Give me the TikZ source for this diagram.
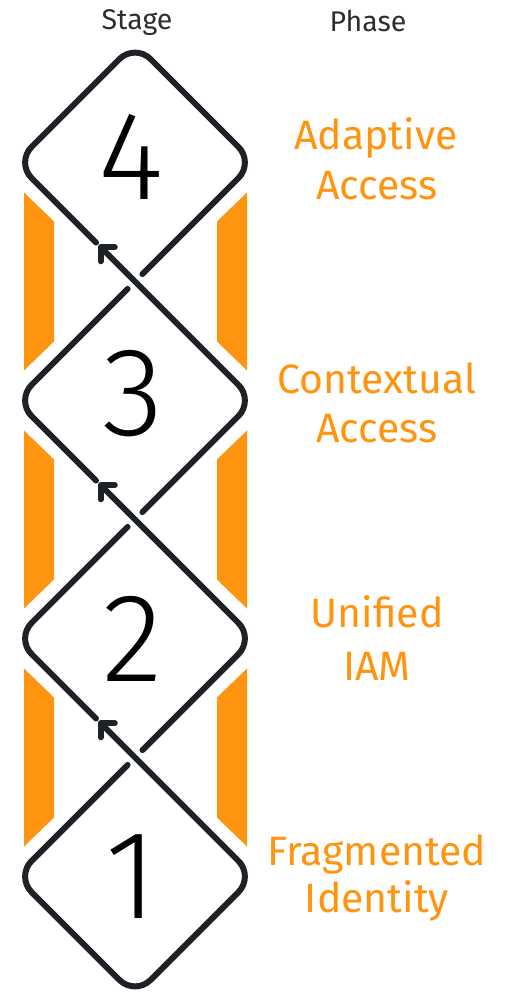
\documentclass[tikz,border=0pt]{standalone}
\usepackage{fontspec}
\setmainfont{Fira Sans}
\newfontfamily\digitfont{Fira Sans Light}
\usetikzlibrary{arrows.meta,calc}
\definecolor{ink}{HTML}{1E2226}
\definecolor{orng}{HTML}{FF9410}
\definecolor{hdr}{HTML}{2E2E2E}
\begin{document}
\begin{tikzpicture}[x=1pt,y=-1pt,
  edge/.style={draw=ink,line width=6pt,line cap=round,line join=round,rounded corners=22pt},
  flow/.style={edge,-{Straight Barb[length=10pt,width=20pt,round]}},
  bar/.style={fill=orng,draw=none},
  digit/.style={font=\digitfont\fontsize{126}{126}\selectfont,text=black,anchor=base,inner sep=0pt},
  phase/.style={font=\fontsize{41}{50}\selectfont,text=orng,anchor=base,inner sep=0pt},
  head/.style={font=\fontsize{28.5}{30}\selectfont,text=hdr,anchor=base,inner sep=0pt}]
\useasboundingbox (0,0) rectangle (504,1000);
\def\cx{135}
\def\D{119}
\foreach \k/\cy in {4/162.5,3/400.5,2/638.5,1/876.5}{
  \coordinate (L\k) at (\cx-\D,\cy);
  \coordinate (R\k) at (\cx+\D,\cy);
  \coordinate (T\k) at (\cx,\cy-\D);
  \coordinate (B\k) at (\cx,\cy+\D);
  \coordinate (P\k) at (\cx-39,\cy+\D-39);
  \coordinate (GA\k) at (\cx+7.4,\cy+\D-7.4);
  \coordinate (GB\k) at (\cx-7.4,\cy-\D+7.4);
  \coordinate (A\k) at (\cx-36.5,\cy-\D-36.5);
}
% orange bars
\foreach \yc in {281.5,519.5,757.5}{
  \fill[bar] (24,\yc-89) -- (54,\yc-60) -- (54,\yc+60) -- (24,\yc+89) -- cycle;
  \fill[bar] (247,\yc-89) -- (217,\yc-60) -- (217,\yc+60) -- (247,\yc+89) -- cycle;
}
% diamonds
\draw[edge] (P4) -- (L4) -- (T4) -- (R4) -- (GA4);
\draw[edge] (GB3) -- (L3) -- (P3);
\draw[edge] (GB2) -- (L2) -- (P2);
\draw[flow] (GA3) -- (R3) -- (A3);
\draw[flow] (GA2) -- (R2) -- (A2);
\draw[flow] (GB1) -- (L1) -- (B1) -- (R1) -- (A1);
% digits
\node[digit] (d4) at (131,200) {4};
\node[digit] (d3) at (133,435) {3};
\node[digit] (d2) at (133,681) {2};
\node[digit] (d1) at (132,918) {1};
% headers
\node[head] (stage) at (137,29.5) {Stage};
\node[head] (phase) at (368,31.5) {Phase};
% phase labels
\node[phase] (p4a) at (376,150) {Adaptive};
\node[phase] (p4b) at (377,200) {Access};
\node[phase] (p3a) at (377,393) {Contextual};
\node[phase] (p3b) at (377,442) {Access};
\node[phase] (p2a) at (377,627) {Unified};
\node[phase] (p2b) at (377,680) {IAM};
\node[phase] (p1a) at (377,865) {Fragmented};
\node[phase] (p1b) at (377,912) {Identity};
\end{tikzpicture}
\end{document}
